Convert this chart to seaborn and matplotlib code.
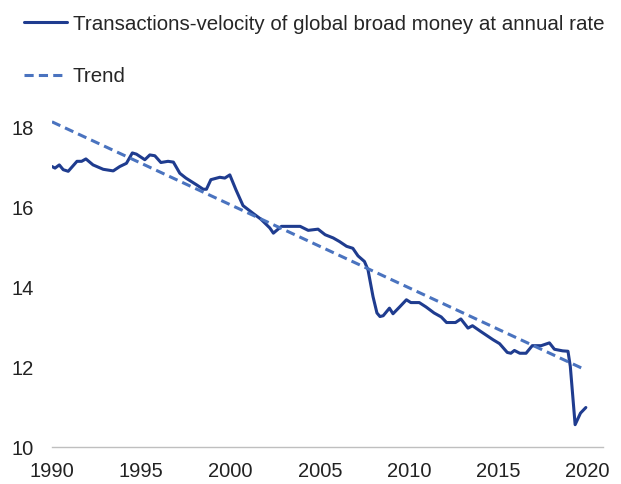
import pandas as pd
import matplotlib
matplotlib.use("Agg")
import matplotlib.pyplot as plt
import seaborn as sns

# values (year fraction, velocity)
years = [1990.0, 1990.17, 1990.41, 1990.63, 1990.91, 1991.4, 1991.66, 1991.9, 1992.3,
         1992.87, 1993.43, 1993.8, 1994.17, 1994.5, 1994.73, 1995.2, 1995.48, 1995.76,
         1996.1, 1996.5, 1996.8, 1997.16, 1997.5, 1998.1, 1998.47, 1998.65, 1998.9,
         1999.4, 1999.68, 1999.96, 2000.3, 2000.7, 2001.25, 2001.7, 2002.2, 2002.4,
         2002.85, 2003.9, 2004.35, 2004.9, 2005.3, 2005.75, 2006.1, 2006.5, 2006.85,
         2007.14, 2007.5, 2007.7, 2007.98, 2008.2, 2008.37, 2008.55, 2008.9, 2009.1,
         2009.47, 2009.85, 2010.1, 2010.57, 2010.95, 2011.4, 2011.8, 2012.1, 2012.6,
         2012.9, 2013.3, 2013.55, 2014.0, 2014.7, 2015.07, 2015.5, 2015.7, 2015.9,
         2016.2, 2016.55, 2016.9, 2017.4, 2017.86, 2018.14, 2018.6, 2018.9, 2019.03,
         2019.3, 2019.6, 2019.9]
velocity = [17.03, 16.99, 17.07, 16.95, 16.91, 17.16, 17.16, 17.22, 17.07,
            16.96, 16.92, 17.03, 17.11, 17.37, 17.34, 17.2, 17.32, 17.30,
            17.13, 17.16, 17.14, 16.86, 16.74, 16.57, 16.46, 16.46, 16.70,
            16.76, 16.74, 16.82, 16.45, 16.05, 15.86, 15.71, 15.49, 15.36,
            15.53, 15.53, 15.43, 15.46, 15.32, 15.24, 15.15, 15.03, 14.98,
            14.79, 14.65, 14.44, 13.77, 13.36, 13.27, 13.29, 13.48, 13.34,
            13.51, 13.69, 13.62, 13.62, 13.51, 13.36, 13.26, 13.12, 13.12,
            13.21, 12.98, 13.04, 12.90, 12.69, 12.59, 12.37, 12.35, 12.42,
            12.35, 12.35, 12.54, 12.54, 12.61, 12.45, 12.41, 12.40, 12.02,
            10.56, 10.85, 10.99]
trend_years = [1990.0, 2019.9]
trend_values = [18.15, 11.93]

x_ticks = [1990, 1995, 2000, 2005, 2010, 2015, 2020]
y_ticks = [10, 12, 14, 16, 18]

sns.set_theme(style="white")
plt.rcParams["font.family"] = ["Liberation Sans", "DejaVu Sans"]

df = pd.DataFrame({"year": years, "velocity": velocity})
trend_df = pd.DataFrame({"year": trend_years, "velocity": trend_values})

fig = plt.figure(figsize=(6.21, 4.84), dpi=100)
ax = fig.add_axes([0.0837, 0.0764, 0.887, 0.742])

sns.lineplot(data=df, x="year", y="velocity", ax=ax, color="#1f3c8f", linewidth=2.2,
             label="Transactions-velocity of global broad money at annual rate")
sns.lineplot(data=trend_df, x="year", y="velocity", ax=ax, color="#4a73bf", linewidth=2.2,
             linestyle=(0, (3, 1.7)), label="Trend")

ax.set_xlim(1990, 2020.85)
ax.set_ylim(10, 19)
ax.set_xticks(x_ticks)
ax.set_yticks(y_ticks)
ax.set_xlabel("")
ax.set_ylabel("")
ax.tick_params(axis="both", labelsize=14.5, colors="#222222", length=0)
ax.tick_params(axis="x", pad=11)
ax.tick_params(axis="y", pad=13)

for s in ["left", "top", "right"]:
    ax.spines[s].set_visible(False)
ax.spines["bottom"].set_color("#bfbfbf")
ax.spines["bottom"].set_linewidth(1)

# legend sits above the plot area, two rows with wide spacing
ax.legend(loc="upper left", bbox_to_anchor=(0.038, 0.97), bbox_transform=fig.transFigure,
          frameon=False, fontsize=14.8, handlelength=2.1, handletextpad=0.3,
          labelspacing=1.62, borderaxespad=0, borderpad=0)

fig.savefig("out.png", dpi=100)
